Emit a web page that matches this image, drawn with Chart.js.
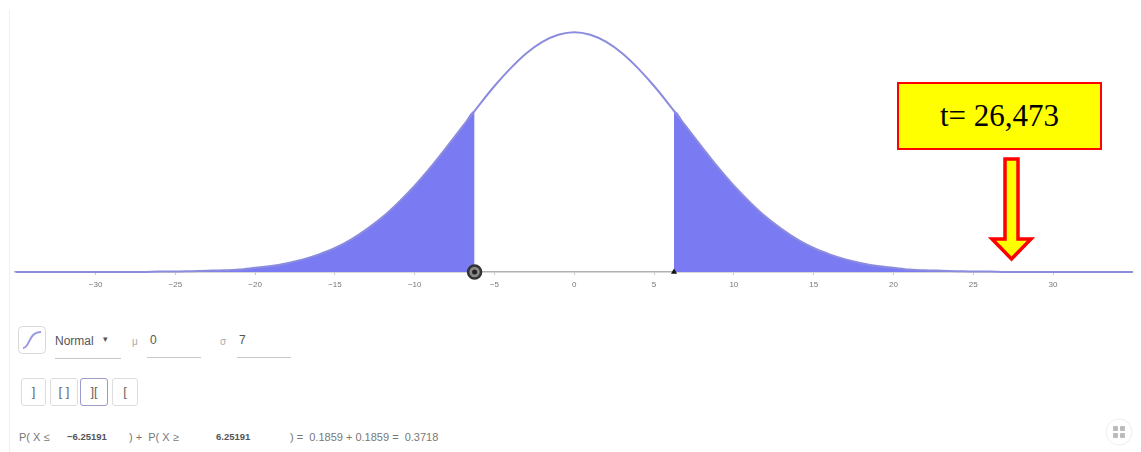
<!DOCTYPE html>
<html>
<head>
<meta charset="utf-8">
<script src="https://cdn.jsdelivr.net/npm/chart.js@4/dist/chart.umd.min.js"></script>
<style>
  body { margin: 0; background: #fff; font-family: "Liberation Sans", Arial, sans-serif; }
  #page { position: relative; width: 1141px; height: 452px; overflow: hidden; }
  #frame { position: absolute; left: 9px; top: 10px; width: 1px; height: 442px; background: #f0f0f0; }
  #chartBox { position: absolute; left: 0; top: 0; width: 1141px; height: 300px; }
  #tbox { position: absolute; left: 897px; top: 82px; width: 201px; height: 64px; background: #ffff00;
          border: 2px solid #ff0000; font-family: "Liberation Serif", "Times New Roman", serif;
          font-size: 31px; color: #000; text-align: center; line-height: 64px; }
  .ui { position: absolute; color: #555; font-size: 12px; }
  .line { position: absolute; height: 1px; background: #c8c8c8; }
  .btn { position: absolute; top: 378px; height: 26px; border: 1px solid #ddd; border-radius: 3px;
         font-size: 13px; color: #666; text-align: center; line-height: 26px; }
  .prob { position: absolute; top: 431px; font-size: 11px; color: #777; }
  .prob b { font-size: 9.5px; color: #555; }
</style>
</head>
<body>
<div id="page">
  <div id="frame"></div>
  <div id="chartBox"><canvas id="chart"></canvas></div>

  <div id="tbox">t= 26,473</div>
  <svg style="position:absolute;left:985px;top:155px" width="55" height="110">
    <path d="M20,4 L33,4 L33,84 L46,84 L26.5,104 L7,84 L20,84 Z" fill="#ffff00" stroke="#ff0000" stroke-width="3.5" stroke-linejoin="miter"/>
  </svg>

  <svg style="position:absolute;left:18px;top:326px" width="28" height="28">
    <rect x="0.5" y="0.5" width="27" height="27" rx="4" fill="#fff" stroke="#d8d8d8"/>
    <path d="M5,22 C12,22 10,6 23,6" fill="none" stroke="#9a9ae0" stroke-width="2"/>
  </svg>
  <div class="ui" style="left:55px;top:334px">Normal</div>
  <div class="ui" style="left:103px;top:334px;font-size:9px">▾</div>
  <div class="line" style="left:55px;top:358px;width:66px"></div>
  <div class="ui" style="left:132px;top:336px;color:#aaa;font-size:10px">μ</div>
  <div class="ui" style="left:150px;top:333px">0</div>
  <div class="line" style="left:147px;top:357px;width:54px"></div>
  <div class="ui" style="left:220px;top:336px;color:#aaa;font-size:10px">σ</div>
  <div class="ui" style="left:239px;top:333px">7</div>
  <div class="line" style="left:237px;top:357px;width:54px"></div>

  <div class="btn" style="left:21px;width:23px">]</div>
  <div class="btn" style="left:50px;width:26px">[ ]</div>
  <div class="btn" style="left:80px;width:26px;border-color:#9a9acc">][</div>
  <div class="btn" style="left:112px;width:24px">[</div>

  <div class="prob" style="left:19px">P( X ≤</div>
  <div class="prob" style="left:67px;top:430px"><b>−6.25191</b></div>
  <div class="prob" style="left:129px">) +&nbsp; P( X ≥</div>
  <div class="prob" style="left:216px;top:430px"><b>6.25191</b></div>
  <div class="prob" style="left:290px">) =&nbsp; 0.1859 + 0.1859 =&nbsp; 0.3718</div>

  <svg style="position:absolute;left:1104px;top:417px" width="30" height="30">
    <circle cx="15" cy="15" r="13" fill="#fff" stroke="#eee"/>
    <rect x="9" y="9" width="5" height="5" rx="1" fill="#bbb"/>
    <rect x="16" y="9" width="5" height="5" rx="1" fill="#bbb"/>
    <rect x="9" y="16" width="5" height="5" rx="1" fill="#bbb"/>
    <rect x="16" y="16" width="5" height="5" rx="1" fill="#bbb"/>
  </svg>
</div>

<script>
// density curve (x, f(x))
const CURVE_X = [-35, -34, -33, -32, -31, -30, -29, -28, -27, -26, -25, -24, -23, -22, -21, -20,
  -19, -18, -17, -16, -15, -14, -13, -12, -11, -10, -9, -8, -7, -6, -5, -4, -3, -2, -1, 0,
  1, 2, 3, 4, 5, 6, 7, 8, 9, 10, 11, 12, 13, 14, 15, 16, 17, 18, 19, 20,
  21, 22, 23, 24, 25, 26, 27, 28, 29, 30, 31, 32, 33, 34, 35];
const CURVE_Y = [0, 0, 0, 0, 0, 0, 0, 0, 0, 0.0001, 0.0001, 0.0002, 0.0003, 0.0004, 0.0006, 0.0010,
  0.0014, 0.0021, 0.0030, 0.0042, 0.0057, 0.0077, 0.0102, 0.0131, 0.0166, 0.0205, 0.0249, 0.0297, 0.0346, 0.0395, 0.0442, 0.0484, 0.0520, 0.0547, 0.0564, 0.0570,
  0.0564, 0.0547, 0.0520, 0.0484, 0.0442, 0.0395, 0.0346, 0.0297, 0.0249, 0.0205, 0.0166, 0.0131, 0.0102, 0.0077, 0.0057, 0.0042, 0.0030, 0.0021, 0.0014, 0.0010,
  0.0006, 0.0004, 0.0003, 0.0002, 0.0001, 0.0001, 0, 0, 0, 0, 0, 0, 0, 0, 0];

// shaded tails: P(X <= -6.25) + P(X >= 6.25)
const CUT_LEFT = -6.25;
const CUT_RIGHT = 6.25;
const CUT_Y = 0.0383;

const X_TICKS = [-30, -25, -20, -15, -10, -5, 0, 5, 10, 15, 20, 25, 30];

const curve = CURVE_X.map((x, i) => ({x: x, y: CURVE_Y[i]}));
const leftTail = curve.filter(p => p.x < CUT_LEFT).concat([{x: CUT_LEFT, y: CUT_Y}, {x: CUT_LEFT, y: 0}]);
const rightTail = [{x: CUT_RIGHT, y: 0}, {x: CUT_RIGHT, y: CUT_Y}].concat(curve.filter(p => p.x > CUT_RIGHT));

const FILL = 'rgb(122, 122, 242)';

new Chart(document.getElementById('chart'), {
  type: 'scatter',
  data: {
    datasets: [
      {
        data: [{x: CUT_LEFT, y: 0}], showLine: false,
        pointRadius: 2.5, pointBackgroundColor: '#222', pointBorderWidth: 0, order: 0
      },
      {
        data: [{x: CUT_LEFT, y: 0}], showLine: false,
        pointRadius: 6.5, pointBackgroundColor: '#888', pointBorderColor: '#333', pointBorderWidth: 2.5, order: 1
      },
      {
        data: [{x: CUT_RIGHT, y: 0}], showLine: false, pointStyle: 'triangle',
        pointRadius: 3.5, pointBackgroundColor: '#111', pointBorderWidth: 0, order: 0
      },
      {
        data: curve, showLine: true, borderColor: 'rgb(140, 140, 222)', borderWidth: 2,
        pointRadius: 0, cubicInterpolationMode: 'monotone', fill: false, order: 2
      },
      {
        data: leftTail, showLine: true, borderWidth: 0, borderColor: FILL, backgroundColor: FILL,
        pointRadius: 0, cubicInterpolationMode: 'monotone', fill: 'origin', order: 3
      },
      {
        data: rightTail, showLine: true, borderWidth: 0, borderColor: FILL, backgroundColor: FILL,
        pointRadius: 0, cubicInterpolationMode: 'monotone', fill: 'origin', order: 3
      }
    ]
  },
  options: {
    responsive: true,
    maintainAspectRatio: false,
    animation: false,
    clip: false,
    layout: { padding: { left: 15, right: 6, top: 0, bottom: 0 } },
    plugins: { legend: { display: false }, tooltip: { enabled: false } },
    scales: {
      x: {
        type: 'linear',
        min: -35.05,
        max: 34.95,
        afterBuildTicks(scale) {
          scale.ticks = X_TICKS.map(v => ({value: v}));
        },
        afterFit(scale) {
          scale.height = 28;
        },
        grid: { drawOnChartArea: false, drawTicks: true, tickLength: 3, color: '#c8c8c8' },
        border: { color: '#b0b0b0', width: 1.5 },
        ticks: {
          padding: 5,
          color: '#777',
          font: { size: 8, family: 'Liberation Sans' },
          callback(value) {
            return value < 0 ? '\u2212' + Math.abs(value) : String(value);
          }
        }
      },
      y: {
        display: false,
        min: 0,
        max: 0.0625
      }
    }
  }
});
</script>
</body>
</html>
